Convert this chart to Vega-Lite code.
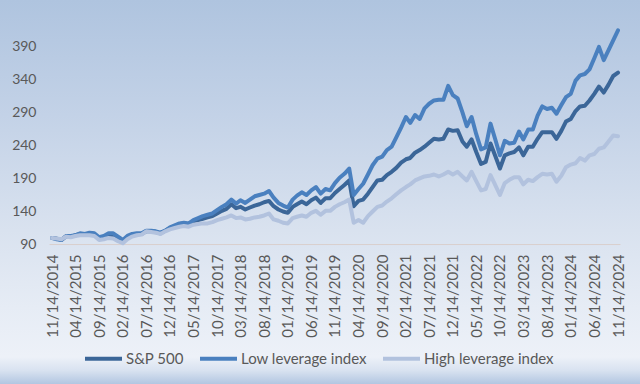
{
  "$schema": "https://vega.github.io/schema/vega-lite/v6.json",
  "width": 640,
  "height": 384,
  "autosize": {"type": "none"},
  "padding": 0,
  "background": "#e8eef6",
  "view": {
    "stroke": null,
    "fill": {
      "gradient": "linear", "x1": 0, "y1": 0, "x2": 0, "y2": 1,
      "stops": [
        {"offset": 0, "color": "#afc4df"},
        {"offset": 0.3, "color": "#c3d2e7"},
        {"offset": 0.6, "color": "#d9e2ef"},
        {"offset": 0.8, "color": "#e6ecf5"},
        {"offset": 0.93, "color": "#edf1f8"},
        {"offset": 0.965, "color": "#d8e2f0"},
        {"offset": 1, "color": "#b2c6e1"}
      ]
    }
  },
  "config": {
    "font": "Lato",
    "axis": {"labelFont": "Lato", "labelFontSize": 14, "labelColor": "#595959", "grid": false, "ticks": false, "domain": false, "title": null},
    "legend": {"labelFont": "Lato", "labelFontSize": 15, "labelColor": "#595959"}
  },
  "resolve": {"axis": {"x": "independent", "y": "independent"}},
  "data": {
    "values": [
      {"d": "2014-11-14", "sp": 100, "low": 100, "high": 100},
      {"d": "2014-12-14", "sp": 99, "low": 98, "high": 99},
      {"d": "2015-01-14", "sp": 97, "low": 97, "high": 98},
      {"d": "2015-02-14", "sp": 103, "low": 103, "high": 102},
      {"d": "2015-03-14", "sp": 102, "low": 103, "high": 101},
      {"d": "2015-04-14", "sp": 104, "low": 104, "high": 103},
      {"d": "2015-05-14", "sp": 106, "low": 107, "high": 104},
      {"d": "2015-06-14", "sp": 105, "low": 106, "high": 104},
      {"d": "2015-07-14", "sp": 107, "low": 108, "high": 104},
      {"d": "2015-08-14", "sp": 106, "low": 107, "high": 103},
      {"d": "2015-09-14", "sp": 99, "low": 101, "high": 97},
      {"d": "2015-10-14", "sp": 101, "low": 103, "high": 98},
      {"d": "2015-11-14", "sp": 104, "low": 107, "high": 100},
      {"d": "2015-12-14", "sp": 103, "low": 107, "high": 99},
      {"d": "2016-01-14", "sp": 98, "low": 102, "high": 95},
      {"d": "2016-02-14", "sp": 95, "low": 97, "high": 92},
      {"d": "2016-03-14", "sp": 101, "low": 103, "high": 98},
      {"d": "2016-04-14", "sp": 104, "low": 106, "high": 102},
      {"d": "2016-05-14", "sp": 106, "low": 107, "high": 104},
      {"d": "2016-06-14", "sp": 106, "low": 107, "high": 105},
      {"d": "2016-07-14", "sp": 110, "low": 111, "high": 110},
      {"d": "2016-08-14", "sp": 110, "low": 111, "high": 109},
      {"d": "2016-09-14", "sp": 109, "low": 110, "high": 108},
      {"d": "2016-10-14", "sp": 107, "low": 108, "high": 106},
      {"d": "2016-11-14", "sp": 111, "low": 111, "high": 110},
      {"d": "2016-12-14", "sp": 115, "low": 116, "high": 113},
      {"d": "2017-01-14", "sp": 118, "low": 119, "high": 115},
      {"d": "2017-02-14", "sp": 121, "low": 122, "high": 117},
      {"d": "2017-03-14", "sp": 122, "low": 123, "high": 118},
      {"d": "2017-04-14", "sp": 121, "low": 122, "high": 117},
      {"d": "2017-05-14", "sp": 125, "low": 127, "high": 120},
      {"d": "2017-06-14", "sp": 127, "low": 130, "high": 121},
      {"d": "2017-07-14", "sp": 129, "low": 133, "high": 122},
      {"d": "2017-08-14", "sp": 131, "low": 135, "high": 122},
      {"d": "2017-09-14", "sp": 133, "low": 137, "high": 124},
      {"d": "2017-10-14", "sp": 137, "low": 142, "high": 127},
      {"d": "2017-11-14", "sp": 141, "low": 147, "high": 129},
      {"d": "2017-12-14", "sp": 144, "low": 151, "high": 131},
      {"d": "2018-01-14", "sp": 151, "low": 158, "high": 134},
      {"d": "2018-02-14", "sp": 145, "low": 152, "high": 130},
      {"d": "2018-03-14", "sp": 147, "low": 157, "high": 131},
      {"d": "2018-04-14", "sp": 143, "low": 153, "high": 128},
      {"d": "2018-05-14", "sp": 146, "low": 158, "high": 129},
      {"d": "2018-06-14", "sp": 149, "low": 163, "high": 131},
      {"d": "2018-07-14", "sp": 151, "low": 165, "high": 132},
      {"d": "2018-08-14", "sp": 154, "low": 167, "high": 134},
      {"d": "2018-09-14", "sp": 156, "low": 171, "high": 137},
      {"d": "2018-10-14", "sp": 148, "low": 161, "high": 128},
      {"d": "2018-11-14", "sp": 143, "low": 153, "high": 126},
      {"d": "2018-12-14", "sp": 140, "low": 149, "high": 123},
      {"d": "2019-01-14", "sp": 138, "low": 146, "high": 122},
      {"d": "2019-02-14", "sp": 147, "low": 158, "high": 130},
      {"d": "2019-03-14", "sp": 151, "low": 164, "high": 132},
      {"d": "2019-04-14", "sp": 155, "low": 169, "high": 134},
      {"d": "2019-05-14", "sp": 151, "low": 165, "high": 132},
      {"d": "2019-06-14", "sp": 157, "low": 172, "high": 138},
      {"d": "2019-07-14", "sp": 161, "low": 177, "high": 141},
      {"d": "2019-08-14", "sp": 153, "low": 167, "high": 135},
      {"d": "2019-09-14", "sp": 160, "low": 174, "high": 141},
      {"d": "2019-10-14", "sp": 160, "low": 172, "high": 141},
      {"d": "2019-11-14", "sp": 168, "low": 183, "high": 147},
      {"d": "2019-12-14", "sp": 174, "low": 191, "high": 151},
      {"d": "2020-01-14", "sp": 180, "low": 197, "high": 154},
      {"d": "2020-02-14", "sp": 187, "low": 205, "high": 158},
      {"d": "2020-03-14", "sp": 148, "low": 165, "high": 123},
      {"d": "2020-04-14", "sp": 156, "low": 174, "high": 127},
      {"d": "2020-05-14", "sp": 158, "low": 182, "high": 123},
      {"d": "2020-06-14", "sp": 167, "low": 196, "high": 133},
      {"d": "2020-07-14", "sp": 177, "low": 210, "high": 140},
      {"d": "2020-08-14", "sp": 187, "low": 220, "high": 147},
      {"d": "2020-09-14", "sp": 188, "low": 223, "high": 149},
      {"d": "2020-10-14", "sp": 195, "low": 233, "high": 155},
      {"d": "2020-11-14", "sp": 200, "low": 238, "high": 160},
      {"d": "2020-12-14", "sp": 206, "low": 252, "high": 166},
      {"d": "2021-01-14", "sp": 214, "low": 267, "high": 172},
      {"d": "2021-02-14", "sp": 219, "low": 283, "high": 177},
      {"d": "2021-03-14", "sp": 221, "low": 274, "high": 181},
      {"d": "2021-04-14", "sp": 229, "low": 286, "high": 187},
      {"d": "2021-05-14", "sp": 233, "low": 280, "high": 190},
      {"d": "2021-06-14", "sp": 238, "low": 296, "high": 193},
      {"d": "2021-07-14", "sp": 244, "low": 303, "high": 194},
      {"d": "2021-08-14", "sp": 250, "low": 308, "high": 196},
      {"d": "2021-09-14", "sp": 249, "low": 309, "high": 193},
      {"d": "2021-10-14", "sp": 250, "low": 309, "high": 196},
      {"d": "2021-11-14", "sp": 264, "low": 330, "high": 200},
      {"d": "2021-12-14", "sp": 262, "low": 316, "high": 196},
      {"d": "2022-01-14", "sp": 263, "low": 311, "high": 200},
      {"d": "2022-02-14", "sp": 246, "low": 290, "high": 193},
      {"d": "2022-03-14", "sp": 238, "low": 269, "high": 187},
      {"d": "2022-04-14", "sp": 249, "low": 283, "high": 200},
      {"d": "2022-05-14", "sp": 230, "low": 257, "high": 186},
      {"d": "2022-06-14", "sp": 212, "low": 234, "high": 172},
      {"d": "2022-07-14", "sp": 215, "low": 237, "high": 174},
      {"d": "2022-08-14", "sp": 243, "low": 273, "high": 195},
      {"d": "2022-09-14", "sp": 224, "low": 249, "high": 180},
      {"d": "2022-10-14", "sp": 205, "low": 225, "high": 165},
      {"d": "2022-11-14", "sp": 225, "low": 247, "high": 183},
      {"d": "2022-12-14", "sp": 228, "low": 243, "high": 188},
      {"d": "2023-01-14", "sp": 230, "low": 244, "high": 192},
      {"d": "2023-02-14", "sp": 237, "low": 261, "high": 192},
      {"d": "2023-03-14", "sp": 225, "low": 249, "high": 181},
      {"d": "2023-04-14", "sp": 238, "low": 264, "high": 188},
      {"d": "2023-05-14", "sp": 238, "low": 264, "high": 186},
      {"d": "2023-06-14", "sp": 250, "low": 285, "high": 192},
      {"d": "2023-07-14", "sp": 260, "low": 299, "high": 197},
      {"d": "2023-08-14", "sp": 260, "low": 295, "high": 196},
      {"d": "2023-09-14", "sp": 260, "low": 297, "high": 197},
      {"d": "2023-10-14", "sp": 250, "low": 288, "high": 185},
      {"d": "2023-11-14", "sp": 262, "low": 301, "high": 194},
      {"d": "2023-12-14", "sp": 276, "low": 313, "high": 207},
      {"d": "2024-01-14", "sp": 280, "low": 318, "high": 211},
      {"d": "2024-02-14", "sp": 292, "low": 338, "high": 213},
      {"d": "2024-03-14", "sp": 299, "low": 346, "high": 221},
      {"d": "2024-04-14", "sp": 300, "low": 348, "high": 217},
      {"d": "2024-05-14", "sp": 308, "low": 355, "high": 225},
      {"d": "2024-06-14", "sp": 318, "low": 372, "high": 227},
      {"d": "2024-07-14", "sp": 329, "low": 389, "high": 235},
      {"d": "2024-08-14", "sp": 320, "low": 369, "high": 237},
      {"d": "2024-09-14", "sp": 332, "low": 384, "high": 246},
      {"d": "2024-10-14", "sp": 345, "low": 399, "high": 255},
      {"d": "2024-11-14", "sp": 350, "low": 414, "high": 254}
    ]
  },
  "layer": [
    {
      "data": {"values": [{"base": 90}]},
      "mark": {"type": "rule", "color": "#d9cfcd", "strokeWidth": 1},
      "encoding": {
        "y": {"field": "base", "type": "quantitative", "axis": null},
        "x": {"datum": {"year": 2014, "month": 10, "date": 29, "utc": true}, "type": "temporal", "axis": null},
        "x2": {"datum": {"year": 2024, "month": 11, "date": 30, "utc": true}}
      }
    },
    {
      "transform": [{"fold": ["sp", "low", "high"], "as": ["series", "value"]}],
      "mark": {"type": "line", "strokeWidth": 4, "strokeJoin": "round", "strokeCap": "round"},
      "encoding": {
        "x": {
          "field": "d", "type": "temporal",
          "scale": {"type": "utc", "domain": [{"year": 2013, "month": 12, "date": 13, "utc": true}, {"year": 2025, "month": 4, "date": 5, "utc": true}]},
          "axis": {
            "orient": "bottom", "offset": -140, "labelAngle": -90, "labelPadding": 10, "labelAlign": "right", "labelBaseline": "middle", "labelFontSize": 15,
            "labelExpr": "utcFormat(datum.value, '%m/%d/%Y')",
            "values": [
              {"year": 2014, "month": 11, "date": 14, "utc": true},
              {"year": 2015, "month": 4, "date": 14, "utc": true},
              {"year": 2015, "month": 9, "date": 14, "utc": true},
              {"year": 2016, "month": 2, "date": 14, "utc": true},
              {"year": 2016, "month": 7, "date": 14, "utc": true},
              {"year": 2016, "month": 12, "date": 14, "utc": true},
              {"year": 2017, "month": 5, "date": 14, "utc": true},
              {"year": 2017, "month": 10, "date": 14, "utc": true},
              {"year": 2018, "month": 3, "date": 14, "utc": true},
              {"year": 2018, "month": 8, "date": 14, "utc": true},
              {"year": 2019, "month": 1, "date": 14, "utc": true},
              {"year": 2019, "month": 6, "date": 14, "utc": true},
              {"year": 2019, "month": 11, "date": 14, "utc": true},
              {"year": 2020, "month": 4, "date": 14, "utc": true},
              {"year": 2020, "month": 9, "date": 14, "utc": true},
              {"year": 2021, "month": 2, "date": 14, "utc": true},
              {"year": 2021, "month": 7, "date": 14, "utc": true},
              {"year": 2021, "month": 12, "date": 14, "utc": true},
              {"year": 2022, "month": 5, "date": 14, "utc": true},
              {"year": 2022, "month": 10, "date": 14, "utc": true},
              {"year": 2023, "month": 3, "date": 14, "utc": true},
              {"year": 2023, "month": 8, "date": 14, "utc": true},
              {"year": 2024, "month": 1, "date": 14, "utc": true},
              {"year": 2024, "month": 6, "date": 14, "utc": true},
              {"year": 2024, "month": 11, "date": 14, "utc": true}
            ]
          }
        },
        "y": {
          "field": "value", "type": "quantitative",
          "scale": {"domain": [-121, 460], "nice": false, "zero": false},
          "axis": {"orient": "left", "offset": -50, "labelPadding": 14, "values": [90, 140, 190, 240, 290, 340, 390]}
        },
        "color": {
          "field": "series", "type": "nominal",
          "scale": {"domain": ["sp", "low", "high"], "range": ["#3b6698", "#4a80bf", "#b2c2de"]},
          "legend": {
            "title": null, "orient": "none", "legendX": 83, "legendY": 338, "direction": "horizontal",
            "symbolType": "stroke", "symbolSize": 1369, "symbolStrokeWidth": 4, "labelOffset": 2, "columnPadding": 8,
            "labelExpr": "datum.value == 'sp' ? 'S&P 500' : datum.value == 'low' ? 'Low leverage index' : 'High leverage index'"
          }
        },
        "order": {"field": "d", "type": "temporal"}
      }
    }
  ]
}
